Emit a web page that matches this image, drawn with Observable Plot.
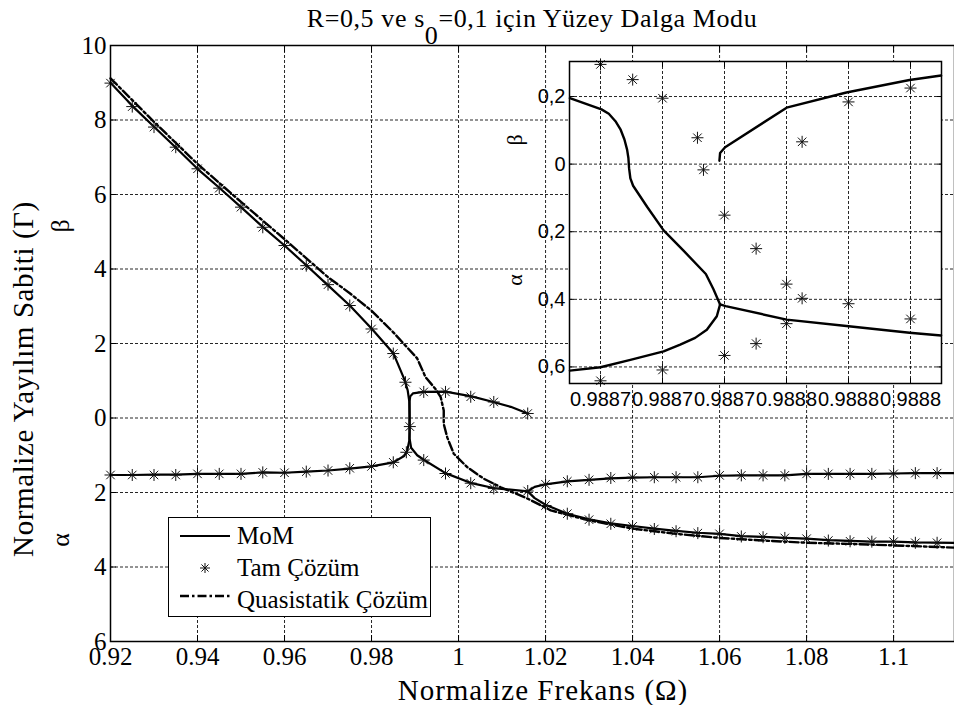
<!DOCTYPE html>
<html>
<head>
<meta charset="utf-8">
<script src="https://cdn.jsdelivr.net/npm/d3@7"></script>
<script src="https://cdn.jsdelivr.net/npm/@observablehq/plot@0.6"></script>
<style>
  html, body { margin: 0; padding: 0; background: #fff; }
  #wrap { position: relative; width: 954px; height: 705px; overflow: hidden; background: #fff; }
  #wrap svg { position: absolute; }
  .serif { font-family: "Liberation Serif", "Times New Roman", Times, "DejaVu Serif", serif; }
</style>
</head>
<body>
<div id="wrap"></div>
<script>
// ---------------- main chart data ----------------
const xTicks = [0.92, 0.94, 0.96, 0.98, 1, 1.02, 1.04, 1.06, 1.08, 1.1];
const xTickLabels = ["0.92", "0.94", "0.96", "0.98", "1", "1.02", "1.04", "1.06", "1.08", "1.1"];
const yTicks = [10, 8, 6, 4, 2, 0, -2, -4, -6];
const yTickLabels = ["10", "8", "6", "4", "2", "0", "2", "4", "6"];
const xDomain = [0.92, 1.114];
const yDomain = [-6, 10];

// MoM curve 1: beta (upper) -> vertical at cusp -> alpha -> lower alpha branch
const mom1X = [0.92, 0.925, 0.93, 0.935, 0.94, 0.945, 0.95, 0.955, 0.96, 0.965, 0.97, 0.975, 0.98, 0.985, 0.9875, 0.9883, 0.98868, 0.98874, 0.98874, 0.9891, 0.9905, 0.992, 0.997, 1.003, 1.008, 1.0125, 1.0159,
  1.0175, 1.02, 1.025, 1.03, 1.035, 1.04, 1.045, 1.05, 1.055, 1.06, 1.065, 1.07, 1.075, 1.08, 1.085, 1.09, 1.095, 1.1, 1.105, 1.114];
const mom1Y = [9.0, 8.38, 7.82, 7.26, 6.69, 6.18, 5.66, 5.13, 4.63, 4.1, 3.56, 3.02, 2.4, 1.74, 1.05, 0.75, 0.45, 0.1, -0.55, -0.8, -1.0, -1.12, -1.48, -1.75, -1.88, -1.93, -1.97,
  -2.15, -2.33, -2.57, -2.72, -2.83, -2.9, -2.97, -3.03, -3.08, -3.11, -3.17, -3.19, -3.22, -3.24, -3.28, -3.3, -3.32, -3.32, -3.34, -3.35];
// MoM curve 2: alpha (lower left) -> vertical at cusp -> short beta branch
const mom2X = [0.92, 0.925, 0.93, 0.935, 0.94, 0.945, 0.95, 0.955, 0.96, 0.965, 0.97, 0.975, 0.98, 0.985, 0.9875, 0.9882, 0.98868, 0.98874, 0.98874, 0.9889, 0.9895, 0.992, 0.997, 1.003, 1.008, 1.012, 1.0159];
const mom2Y = [-1.53, -1.53, -1.52, -1.52, -1.5, -1.5, -1.5, -1.46, -1.47, -1.44, -1.41, -1.36, -1.3, -1.19, -1.02, -0.88, -0.6, -0.4, 0.45, 0.58, 0.66, 0.7, 0.71, 0.58, 0.43, 0.3, 0.12];
// MoM curve 3: upper alpha branch right of the junction
const mom3X = [1.0159, 1.0175, 1.02, 1.025, 1.03, 1.035, 1.04, 1.045, 1.05, 1.055, 1.06, 1.065, 1.07, 1.075, 1.08, 1.085, 1.09, 1.095, 1.1, 1.105, 1.114];
const mom3Y = [-1.97, -1.85, -1.78, -1.7, -1.66, -1.62, -1.6, -1.59, -1.59, -1.59, -1.55, -1.54, -1.54, -1.54, -1.5, -1.5, -1.5, -1.5, -1.49, -1.48, -1.48];

// Quasistatik Çözüm
const qsX = [0.92, 0.93, 0.94, 0.95, 0.96, 0.97, 0.975, 0.98, 0.985, 0.9905, 0.9924, 0.9947, 0.9959, 0.9966, 0.9966, 0.9974, 0.9989, 1.002, 1.0058, 1.0097, 1.016, 1.0212, 1.03, 1.04, 1.05, 1.06, 1.07, 1.08, 1.09, 1.1, 1.114];
const qsY = [9.12, 7.95, 6.82, 5.8, 4.8, 3.78, 3.35, 2.88, 2.3, 1.6, 1.1, 0.78, 0.56, 0.2, -0.16, -0.52, -0.96, -1.32, -1.63, -1.86, -2.17, -2.48, -2.75, -2.97, -3.11, -3.22, -3.29, -3.35, -3.38, -3.42, -3.48];

// Tam Çözüm (stars)
const tamX = [
  0.92, 0.925, 0.93, 0.935, 0.94, 0.945, 0.95, 0.955, 0.96, 0.965, 0.97, 0.975, 0.98, 0.985, 0.9878, 0.9888,
  0.992, 0.997, 1.0028, 1.0081, 1.0159,
  0.92, 0.925, 0.93, 0.935, 0.94, 0.945, 0.95, 0.955, 0.96, 0.965, 0.97, 0.975, 0.98, 0.985, 0.988,
  0.992, 0.997, 1.0028, 1.0081, 1.0159,
  1.02, 1.025, 1.03, 1.035, 1.04, 1.045, 1.05, 1.055, 1.06, 1.065, 1.07, 1.075, 1.08, 1.085, 1.09, 1.095, 1.1, 1.105, 1.11,
  1.02, 1.025, 1.03, 1.035, 1.04, 1.045, 1.05, 1.055, 1.06, 1.065, 1.07, 1.075, 1.08, 1.085, 1.09, 1.095, 1.1, 1.105, 1.11
];
const tamY = [
  8.99, 8.36, 7.81, 7.27, 6.69, 6.17, 5.66, 5.12, 4.63, 4.09, 3.58, 3.02, 2.39, 1.73, 0.96, -0.23,
  0.7, 0.7, 0.57, 0.43, 0.12,
  -1.53, -1.53, -1.53, -1.53, -1.5, -1.5, -1.5, -1.46, -1.47, -1.44, -1.41, -1.35, -1.3, -1.19, -0.92,
  -1.13, -1.49, -1.75, -1.89, -1.96,
  -1.78, -1.7, -1.66, -1.61, -1.59, -1.59, -1.59, -1.59, -1.54, -1.54, -1.54, -1.54, -1.5, -1.5, -1.5, -1.5, -1.5, -1.48, -1.48,
  -2.35, -2.57, -2.73, -2.84, -2.91, -2.98, -3.04, -3.09, -3.11, -3.18, -3.2, -3.22, -3.24, -3.29, -3.31, -3.32, -3.32, -3.35, -3.35
];

// ---------------- inset data ----------------
const insetXTicks = [0.98872, 0.98873, 0.98874, 0.98875, 0.98876, 0.98877];
const insetXTickLabels = ["0.9887", "0.9887", "0.9887", "0.9888", "0.9888", "0.9888"];
const insetYTicks = [0.2, 0, -0.2, -0.4, -0.6];
const insetYTickLabels = ["0,2", "0", "0,2", "0,4", "0,6"];
const insetXDomain = [0.988715, 0.988775];
const insetYDomain = [-0.649, 0.3036];

const insAX = [0.98871506, 0.98872016, 0.98872134, 0.98872241, 0.98872322, 0.98872386, 0.98872429, 0.9887245, 0.98872461, 0.98872482, 0.98872526, 0.98872751, 0.98873018, 0.98873339, 0.98873699, 0.98873822, 0.98873929];
const insAY = [0.195, 0.162, 0.149, 0.127, 0.103, 0.073, 0.043, 0.018, -0.012, -0.042, -0.064, -0.126, -0.196, -0.256, -0.325, -0.37, -0.415];
const insBX = [0.98873929, 0.98873876, 0.98873715, 0.98873527, 0.98873286, 0.98873018, 0.98872482, 0.98872, 0.98871506];
const insBY = [-0.415, -0.45, -0.49, -0.514, -0.534, -0.554, -0.579, -0.601, -0.611];
const insCX = [0.98873929, 0.98874019, 0.98875002, 0.98875966, 0.98876984, 0.98877494];
const insCY = [-0.415, -0.42, -0.46, -0.479, -0.499, -0.507];
const insDX = [0.98873918, 0.98873929, 0.9887401, 0.98875002, 0.98875966, 0.98876984, 0.98877494];
const insDY = [0.01, 0.033, 0.05, 0.167, 0.212, 0.249, 0.262];

const insTamX = [0.98872, 0.98872519, 0.98873, 0.98873564, 0.98873661, 0.98874, 0.9887451, 0.98875, 0.98875252, 0.98876, 0.98875252, 0.98877, 0.98876, 0.98877, 0.98875, 0.9887451, 0.98874, 0.98873, 0.98872];
const insTamY = [0.295, 0.25, 0.195, 0.078, -0.017, -0.151, -0.25, -0.355, -0.397, 0.184, 0.066, 0.225, -0.413, -0.458, -0.472, -0.531, -0.566, -0.609, -0.641];

// ---------------- helpers ----------------
const rows = (xs, ys, s) => xs.map((x, i) => ({x, y: ys[i], s}));
const momRows = [...rows(mom1X, mom1Y, "m1"), ...rows(mom2X, mom2Y, "m2"), ...rows(mom3X, mom3Y, "m3")];
const qsRows = rows(qsX, qsY, "qs");
const tamRows = rows(tamX, tamY, "tam");
const insMomRows = [...rows(insAX, insAY, "a"), ...rows(insBX, insBY, "b"), ...rows(insCX, insCY, "c"), ...rows(insDX, insDY, "d")];
const insTamRows = rows(insTamX, insTamY, "tam");

// MATLAB-like '*' marker: plus + x
const star8 = {
  draw(ctx, size) {
    const r = Math.sqrt(size / Math.PI), d = r * Math.SQRT1_2;
    ctx.moveTo(-r, 0); ctx.lineTo(r, 0);
    ctx.moveTo(0, -r); ctx.lineTo(0, r);
    ctx.moveTo(-d, -d); ctx.lineTo(d, d);
    ctx.moveTo(-d, d); ctx.lineTo(d, -d);
  }
};

const gridStyle = {stroke: "#000", strokeOpacity: 0.85, strokeWidth: 1, strokeDasharray: "3,2"};
const SERIF = '"Liberation Serif", "Times New Roman", Times, "DejaVu Serif", serif';
const SANS = '"Liberation Sans", Arial, Helvetica, sans-serif';
const DASHDOT = "9,3,2.5,3";

// ---------------- main plot ----------------
const W = 954, H = 705, mL = 110, mR = 0, mT = 45, mB = 64;
const main = Plot.plot({
  width: W, height: H,
  marginLeft: mL, marginRight: mR, marginTop: mT, marginBottom: mB,
  style: {fontFamily: SERIF, fontSize: "25px", background: "white", color: "black", overflow: "visible"},
  x: {domain: xDomain},
  y: {domain: yDomain},
  marks: [
    Plot.gridX(xTicks, gridStyle),
    Plot.gridY(yTicks, gridStyle),
    Plot.line(qsRows, {x: "x", y: "y", stroke: "black", strokeWidth: 2.4, strokeDasharray: DASHDOT}),
    Plot.line(momRows, {x: "x", y: "y", z: "s", stroke: "black", strokeWidth: 2.2}),
    Plot.dot(tamRows, {x: "x", y: "y", symbol: star8, r: 6, stroke: "#111", strokeWidth: 1, fill: "none"}),
    Plot.frame({stroke: "black", strokeWidth: 1.5}),
    Plot.axisX(xTicks, {anchor: "bottom", tickSize: -6, tickFormat: () => "", label: null}),
    Plot.axisX(xTicks, {anchor: "top", tickSize: -6, tickFormat: () => "", label: null}),
    Plot.axisY(yTicks, {anchor: "left", tickSize: -6, tickFormat: () => "", label: null}),
    Plot.axisX(xTicks, {anchor: "bottom", tickSize: 0, tickPadding: 6, label: null, fontFamily: SERIF,
      tickFormat: d => xTickLabels[xTicks.indexOf(d)]}),
    Plot.axisY(yTicks, {anchor: "left", tickSize: 0, tickPadding: 4, label: null, fontFamily: SERIF,
      tickFormat: d => yTickLabels[yTicks.indexOf(d)]})
  ]
});
main.style.left = "0px";
main.style.top = "0px";
main.setAttribute("font-family", SERIF);
document.getElementById("wrap").appendChild(main);

const svgM = d3.select(main);
const cx = mL + (W - mL - mR) / 2;
function addText(sel, size, spacing = 0) {
  return sel.append("text").attr("class", "serif").attr("fill", "black")
    .attr("font-family", SERIF).style("font-family", SERIF)
    .attr("font-size", size).style("font-size", size + "px")
    .style("letter-spacing", spacing + "px");
}
// title with subscript
const title = addText(svgM, 26, 0.6).attr("x", cx).attr("y", 27).attr("text-anchor", "middle");
title.append("tspan").text("R=0,5 ve s");
title.append("tspan").attr("dy", 17).text("0");
title.append("tspan").attr("dy", -17).text("=0,1 için Yüzey Dalga Modu");
// x label
addText(svgM, 29, 1).attr("x", 543).attr("y", 700).attr("text-anchor", "middle")
  .text("Normalize Frekans (Ω)");
// y label (two lines)
addText(svgM, 29, 0.6).attr("transform", "translate(33,379) rotate(-90)").attr("text-anchor", "middle")
  .text("Normalize Yayılım Sabiti (Γ)");
addText(svgM, 26).attr("transform", "translate(69,226) rotate(-90)").attr("text-anchor", "middle").text("β");
addText(svgM, 26).attr("transform", "translate(69,540) rotate(-90)").attr("text-anchor", "middle").text("α");

// legend
const lg = svgM.append("g");
lg.append("rect").attr("x", 168.5).attr("y", 517.5).attr("width", 262).attr("height", 99)
  .attr("fill", "white").attr("stroke", "black").attr("stroke-width", 1);
lg.append("line").attr("x1", 180).attr("x2", 230).attr("y1", 536).attr("y2", 536)
  .attr("stroke", "black").attr("stroke-width", 2.2);
lg.append("path").attr("d", d3.symbol(star8, Math.PI * 25)()).attr("transform", "translate(205,568)")
  .attr("fill", "none").attr("stroke", "#111").attr("stroke-width", 1);
lg.append("line").attr("x1", 180).attr("x2", 230).attr("y1", 596).attr("y2", 596)
  .attr("stroke", "black").attr("stroke-width", 2.4).attr("stroke-dasharray", DASHDOT);
const legendLabels = ["MoM", "Tam Çözüm", "Quasistatik Çözüm"];
const legendBaselines = [544, 576, 608];
legendLabels.forEach((t, i) => {
  addText(lg, 25).attr("x", 237).attr("y", legendBaselines[i]).attr("text-anchor", "start").text(t);
});

// ---------------- inset ----------------
const iL = 70, iR = 6, iT = 6, iB = 40, iW = 372, iH = 322;
const inset = Plot.plot({
  width: iW + iL + iR, height: iH + iT + iB,
  marginLeft: iL, marginRight: iR, marginTop: iT, marginBottom: iB,
  style: {fontFamily: SANS, fontSize: "20px", background: "transparent", color: "black", overflow: "visible"},
  x: {domain: insetXDomain},
  y: {domain: insetYDomain},
  marks: [
    Plot.frame({fill: "white", stroke: "none"}),
    Plot.gridX(insetXTicks, gridStyle),
    Plot.gridY(insetYTicks, gridStyle),
    Plot.line(insMomRows, {x: "x", y: "y", z: "s", stroke: "black", strokeWidth: 2.4}),
    Plot.dot(insTamRows, {x: "x", y: "y", symbol: star8, r: 6, stroke: "#111", strokeWidth: 1, fill: "none"}),
    Plot.frame({stroke: "black", strokeWidth: 1.5}),
    Plot.axisX(insetXTicks, {anchor: "bottom", tickSize: -5, tickFormat: () => "", label: null}),
    Plot.axisX(insetXTicks, {anchor: "top", tickSize: -5, tickFormat: () => "", label: null}),
    Plot.axisY(insetYTicks, {anchor: "left", tickSize: -5, tickFormat: () => "", label: null}),
    Plot.axisY(insetYTicks, {anchor: "right", tickSize: -5, tickFormat: () => "", label: null}),
    Plot.axisX(insetXTicks, {anchor: "bottom", tickSize: 0, tickPadding: 8, label: null,
      tickFormat: d => insetXTickLabels[insetXTicks.indexOf(d)]}),
    Plot.axisY(insetYTicks, {anchor: "left", tickSize: 0, tickPadding: 4, label: null,
      tickFormat: d => insetYTickLabels[insetYTicks.indexOf(d)]})
  ]
});
inset.style.left = (569 - iL) + "px";
inset.style.top = (61 - iT) + "px";
document.getElementById("wrap").appendChild(inset);

const svgI = d3.select(inset);
addText(svgI, 22).attr("transform", `translate(${iL - 47},${140 - 61 + iT}) rotate(-90)`).attr("text-anchor", "middle").text("β");
addText(svgI, 22).attr("transform", `translate(${iL - 47},${280 - 61 + iT}) rotate(-90)`).attr("text-anchor", "middle").text("α");
</script>
</body>
</html>
